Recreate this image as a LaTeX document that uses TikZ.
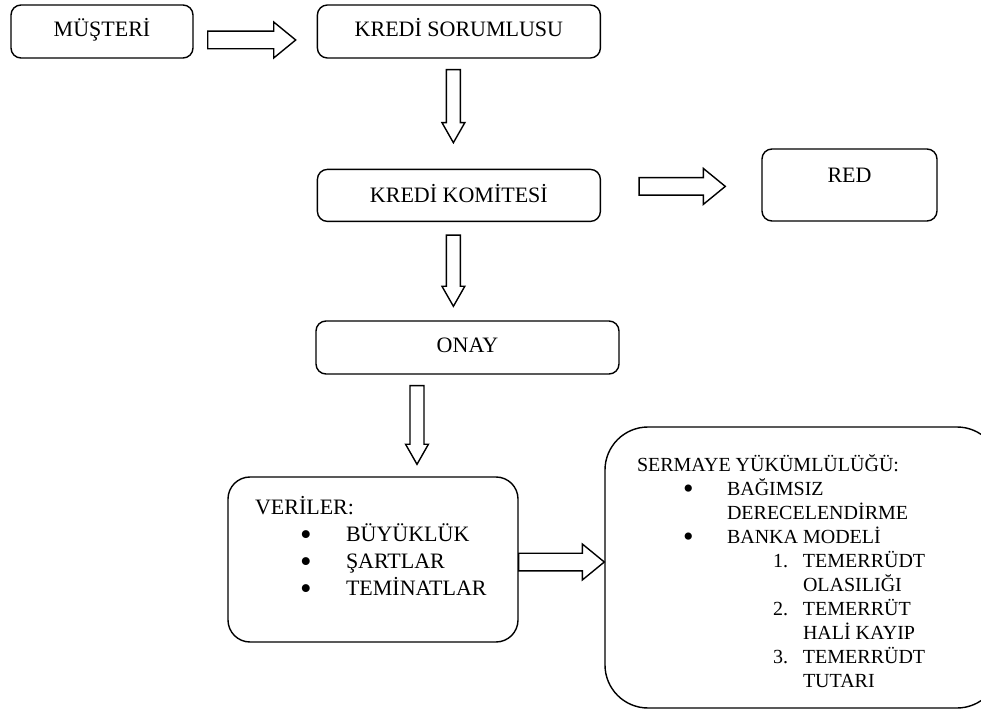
\documentclass[tikz,border=0pt]{standalone}
\usepackage{fontspec}
\setmainfont{Liberation Serif}
\usepackage{graphicx}
\usetikzlibrary{positioning,calc}
\newcommand{\bigbullet}{\smash{\raisebox{-0.17em}{\scalebox{1.5}{\textbullet}}}}

\begin{document}
\begin{tikzpicture}[x=0.5pt, y=-0.5pt, line width=0.7pt,
    box/.style={draw, rectangle, rounded corners=5pt, inner sep=0pt},
    boxtext/.style={anchor=base, inner sep=0pt, font=\fontsize{11}{13.5}\selectfont},
    listtext/.style={anchor=base west, inner sep=0pt},
    fatright/.style={to path={let \p1=(\tikztostart), \p2=(\tikztotarget) in
      (\x1,\y1+4.4pt) -- (\x2-11pt,\y1+4.4pt) -- (\x2-11pt,\y1+9pt) -- (\x2,\y1)
      -- (\x2-11pt,\y1-9pt) -- (\x2-11pt,\y1-4.4pt) -- (\x1,\y1-4.4pt) -- cycle}},
    fatdown/.style={to path={let \p1=(\tikztostart), \p2=(\tikztotarget) in
      (\x1-3.5pt,\y1) -- (\x1-3.5pt,\y2+10pt) -- (\x1-5.7pt,\y2+10pt) -- (\x1,\y2)
      -- (\x1+5.7pt,\y2+10pt) -- (\x1+3.5pt,\y2+10pt) -- (\x1+3.5pt,\y1) -- cycle}}]

    \useasboundingbox (0,0) rectangle (981,711);

    % === Musteri -> Kredi sorumlusu ===
    \node[box, minimum width=91pt, minimum height=26.5pt] (must) at (102,31.5) {};
    \node[boxtext] (mustT) at ([yshift=-16pt]must.north) {MÜŞTERİ};
    \node[box, minimum width=141.5pt, minimum height=26.5pt, right=61.5pt of must] (sor) {};
    \node[boxtext] (sorT) at ([yshift=-16pt]sor.north) {KREDİ SORUMLUSU};
    \draw[fatright] ([xshift=7pt,yshift=-4.25pt]must.east) to ([xshift=-10.5pt]sor.west);

    % === Kredi komitesi ===
    \node[box, minimum width=141.5pt, minimum height=26pt, below=55pt of sor] (kom) {};
    \node[boxtext] (komT) at ([yshift=-17pt]kom.north) {KREDİ KOMİTESİ};
    \draw[fatdown] ([xshift=-2.75pt,yshift=-5.5pt]sor.south) to ([yshift=13pt]kom.north);

    % Red
    \node[box, minimum width=87.5pt, minimum height=36pt] (red) at (849.5,185) {};
    \node[boxtext] (redT) at ([yshift=-17pt]red.north) {RED};
    \draw[fatright] ([xshift=19pt,yshift=4.5pt]kom.east) to ([xshift=-18pt]red.west);

    % === Onay ===
    \node[box, minimum width=151.5pt, minimum height=26.5pt] (onay) at (467.5,347.5) {};
    \node[boxtext] (onayT) at ([yshift=-16pt]onay.north) {ONAY};
    \draw[fatdown] ([xshift=-2.75pt,yshift=-6.5pt]kom.south) to ([yshift=7pt]onay.north);

    % === Veriler ===
    \node[box, rounded corners=11pt, minimum width=145pt, minimum height=82.5pt] (veri) at (373,559.5) {};
    \node[listtext, font=\fontsize{11}{13.5}\selectfont] (veriT) at ([xshift=13.5pt,yshift=-19pt]veri.north west)
      {\begin{tabular}[t]{@{}l@{}}
        VERİLER:\\
        \hspace*{22.5pt}\makebox[23pt][l]{\bigbullet}BÜYÜKLÜK\\
        \hspace*{22.5pt}\makebox[23pt][l]{\bigbullet}ŞARTLAR\\
        \hspace*{22.5pt}\makebox[23pt][l]{\bigbullet}TEMİNATLAR
      \end{tabular}};
    \draw[fatdown] ([xshift=-25.25pt,yshift=-5.5pt]onay.south) to ([yshift=6pt]veri.north);

    % === Sermaye yukumlulugu ===
    \node[box, rounded corners=21.5pt, minimum width=197.5pt, minimum height=140.5pt] (serm) at (802.5,567.5) {};
    \node[listtext, font=\fontsize{10}{12}\selectfont] (sermT) at ([xshift=16pt,yshift=-22.5pt]serm.north west)
      {\begin{tabular}[t]{@{}l@{}}
        SERMAYE YÜKÜMLÜLÜĞÜ:\\
        \hspace*{23pt}\makebox[22pt][l]{\bigbullet}BAĞIMSIZ\\
        \hspace*{45pt}DERECELENDİRME\\
        \hspace*{23pt}\makebox[22pt][l]{\bigbullet}BANKA MODELİ\\
        \hspace*{68pt}\makebox[15pt][l]{1.}TEMERRÜDT\\
        \hspace*{83pt}OLASILIĞI\\
        \hspace*{68pt}\makebox[15pt][l]{2.}TEMERRÜT\\
        \hspace*{83pt}HALİ KAYIP\\
        \hspace*{68pt}\makebox[15pt][l]{3.}TEMERRÜDT\\
        \hspace*{83pt}TUTARI
      \end{tabular}};
    \draw[fatright] ([yshift=-1.25pt]veri.east) to (serm.west);

\end{tikzpicture}
\end{document}
